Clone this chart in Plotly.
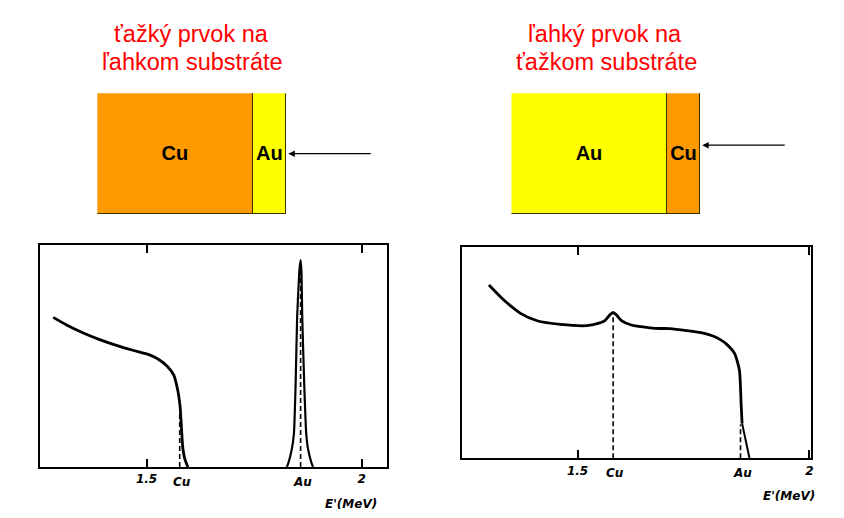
import plotly.graph_objects as go

# page body has an 8px margin, so the figure is laid out on 836x510 with an 8px shift
OFF = 8
W, H = 844 - OFF, 518 - OFF

# ---------------- data ----------------
# schematic layers (relative thickness)
left_layers = ["Cu", "Au"]
left_thick = [4.8, 1.0]
left_colors = ["#FF9900", "#FFFF00"]
right_layers = ["Au", "Cu"]
right_thick = [4.8, 1.0]
right_colors = ["#FFFF00", "#FF9900"]

left_title = ["ťažký prvok na", "ľahkom substráte"]
right_title = ["ľahký prvok na", "ťažkom substráte"]

# left spectrum: Au film on Cu substrate
l_cu_E = [1.283, 1.314, 1.353, 1.391, 1.430, 1.468, 1.507, 1.530, 1.549, 1.563,
          1.573, 1.578, 1.581, 1.584, 1.589, 1.596]
l_cu_Y = [67.4, 64.0, 60.4, 57.4, 54.8, 52.6, 50.5, 48.2, 45.2, 41.5,
          34.0, 27.0, 18.0, 9.0, 3.5, 0.0]
l_au_E = [1.826, 1.8294, 1.8373, 1.8426, 1.8465, 1.850, 1.855, 1.858, 1.860,
          1.8618, 1.8664, 1.871, 1.8757, 1.8836, 1.887]
l_au_Y = [0.0, 1.7, 7.7, 15.2, 37.7, 67.7, 88.0, 93.2, 88.0,
          67.7, 37.7, 15.2, 7.7, 1.7, 0.0]
l_marks_E = [1.577, 1.858]
l_marks_top = [25.0, 91.0]

# right spectrum: Cu film on Au substrate
r_E = [1.309, 1.341, 1.377, 1.413, 1.463, 1.520, 1.5445, 1.559, 1.5697, 1.5768,
       1.5839, 1.5946, 1.6161, 1.6665, 1.699, 1.771, 1.792, 1.807, 1.820, 1.8385,
       1.849, 1.8527, 1.8548]
r_Y = [81.9, 74.8, 68.5, 65.0, 63.3, 62.7, 63.8, 65.1, 67.8, 68.9,
       67.8, 65.1, 63.0, 61.4, 61.3, 59.2, 57.8, 56.2, 54.2, 49.6,
       41.7, 25.9, 16.5]
r_tail_E = [1.8548, 1.8708]
r_tail_Y = [16.5, 0.0]
r_marks_E = [1.5768, 1.8514]
r_marks_top = [68.9, 16.0]

mark_labels = ["Cu", "Au"]
tick_vals = [1.5, 2.0]
tick_text = ["1.5", "2"]

# ---------------- figure ----------------
fig = go.Figure()

def px_x(x):
    return (x - OFF) / W

def px_y(y):
    return 1 - (y - OFF) / H

# schematic bars
for names, th, cols, xa, ya in [(left_layers, left_thick, left_colors, "x3", "y3"),
                                 (right_layers, right_thick, right_colors, "x4", "y4")]:
    for n, t, c in zip(names, th, cols):
        fig.add_trace(go.Bar(
            x=[t], y=[0], orientation="h", width=1,
            marker=dict(color=c, line=dict(color="#333300", width=1)),
            text=[n], textposition="inside", insidetextanchor="middle",
            constraintext="none", textangle=0,
            textfont=dict(family="Liberation Sans", size=20, color="black", weight="bold"),
            xaxis=xa, yaxis=ya, showlegend=False, hoverinfo="skip"))

LW = 2.8
# left spectrum
fig.add_trace(go.Scatter(x=l_cu_E, y=l_cu_Y, mode="lines",
                         line=dict(color="black", width=LW, shape="spline", smoothing=0.6),
                         xaxis="x", yaxis="y", showlegend=False))
fig.add_trace(go.Scatter(x=l_au_E, y=l_au_Y, mode="lines",
                         line=dict(color="black", width=2.2, shape="spline", smoothing=0.4),
                         xaxis="x", yaxis="y", showlegend=False))
for e, t in zip(l_marks_E, l_marks_top):
    fig.add_trace(go.Scatter(x=[e, e], y=[0, t], mode="lines",
                             line=dict(color="black", width=1.6, dash="5px,3px"),
                             xaxis="x", yaxis="y", showlegend=False))

# right spectrum
fig.add_trace(go.Scatter(x=r_E, y=r_Y, mode="lines",
                         line=dict(color="black", width=LW, shape="spline", smoothing=0.6),
                         xaxis="x2", yaxis="y2", showlegend=False))
fig.add_trace(go.Scatter(x=r_tail_E, y=r_tail_Y, mode="lines",
                         line=dict(color="black", width=2.0),
                         xaxis="x2", yaxis="y2", showlegend=False))
for e, t in zip(r_marks_E, r_marks_top):
    fig.add_trace(go.Scatter(x=[e, e], y=[0, t], mode="lines",
                             line=dict(color="black", width=1.6, dash="5px,3px"),
                             xaxis="x2", yaxis="y2", showlegend=False))

tickfont = dict(family="DejaVu Sans", size=12, color="black", weight="bold", style="italic")
xcommon = dict(showline=True, linecolor="black", linewidth=2, mirror="ticks",
               ticks="inside", ticklen=8, tickwidth=2, tickcolor="black",
               tickvals=tick_vals, ticktext=tick_text, tickfont=tickfont,
               showgrid=False, zeroline=False, fixedrange=True)
ycommon = dict(showline=True, linecolor="black", linewidth=2, mirror=True,
               ticks="", showticklabels=False, showgrid=False, zeroline=False,
               range=[0, 100], fixedrange=True)

fig.update_layout(
    width=W, height=H, margin=dict(l=0, r=0, t=0, b=0),
    paper_bgcolor="white", plot_bgcolor="rgba(0,0,0,0)",
    barmode="stack", bargap=0, showlegend=False,
    xaxis=dict(domain=[px_x(40), px_x(388)], range=[1.252, 2.058], anchor="y", **xcommon),
    yaxis=dict(domain=[px_y(467), px_y(245)], anchor="x", **ycommon),
    xaxis2=dict(domain=[px_x(463.7), px_x(813.7)], range=[1.251, 2.003], anchor="y2", **xcommon),
    yaxis2=dict(domain=[px_y(458.3), px_y(246.7)], anchor="x2", **ycommon),
    xaxis3=dict(domain=[px_x(97.7), px_x(287.3)], range=[0, sum(left_thick)], anchor="y3", visible=False),
    yaxis3=dict(domain=[px_y(214), px_y(93.3)], range=[-0.5, 0.5], anchor="x3", visible=False),
    xaxis4=dict(domain=[px_x(513.3), px_x(702.7)], range=[0, sum(right_thick)], anchor="y4", visible=False),
    yaxis4=dict(domain=[px_y(214), px_y(93.3)], range=[-0.5, 0.5], anchor="x4", visible=False),
)

ann = []
labfont = dict(family="DejaVu Sans", size=12, color="black", weight="bold", style="italic")
# Cu / Au labels below the spectra
for xa, ya, marks in [("x", "y", l_marks_E), ("x2", "y2", r_marks_E)]:
    for e, lab in zip(marks, mark_labels):
        ann.append(dict(x=e, y=0, xref=xa, yref=ya, text=lab, showarrow=False,
                        yanchor="top", yshift=-6, xshift=2, font=labfont))
# axis titles
ann.append(dict(x=1.975, y=0, xref="x", yref="y", text="E'(MeV)", showarrow=False,
                yanchor="top", yshift=-28, font=labfont))
ann.append(dict(x=1.957, y=0, xref="x2", yref="y2", text="E'(MeV)", showarrow=False,
                yanchor="top", yshift=-29, font=labfont))
# red titles
titlefont = dict(family="Liberation Sans", size=23.5, color="#FF0000")
for cx, lines in [(192, left_title), (607.5, right_title)]:
    for i, (line, cy) in enumerate(zip(lines, [34, 62])):
        ann.append(dict(x=px_x(cx + (1.5 if i else 0)), y=px_y(cy), xref="paper", yref="paper",
                        text=line, showarrow=False, xanchor="center", yanchor="middle",
                        font=titlefont))
# incoming beam arrows
ann.append(dict(x=sum(left_thick), y=0, xref="x3", yref="y3", ax=86, ay=0,
                showarrow=True, arrowhead=2, arrowsize=1, arrowwidth=1.3,
                arrowcolor="black", standoff=2, text=""))
ann.append(dict(x=sum(right_thick), y=0.07, xref="x4", yref="y4", ax=86, ay=0,
                showarrow=True, arrowhead=2, arrowsize=1, arrowwidth=1.3,
                arrowcolor="black", standoff=2, text=""))
fig.update_layout(annotations=ann)

fig.write_html("out.html")
